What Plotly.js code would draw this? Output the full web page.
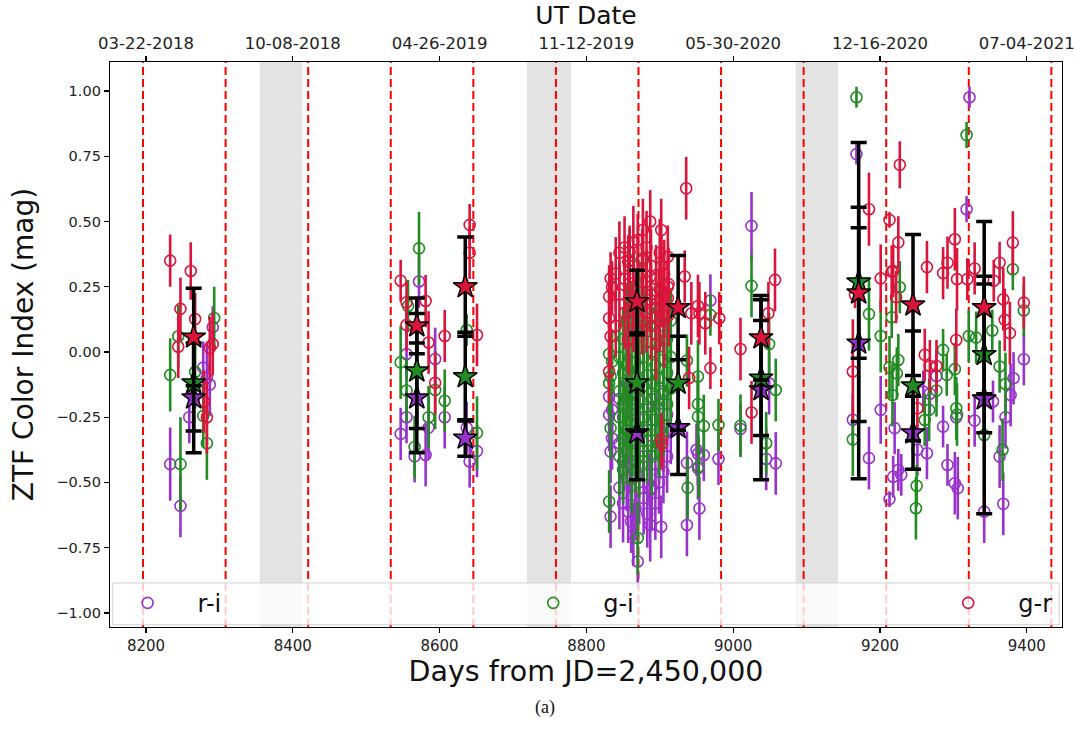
<!DOCTYPE html>
<html>
<head>
<meta charset="utf-8">
<script src="https://cdn.plot.ly/plotly-3.0.1.min.js"></script>
<style>html,body{margin:0;padding:0;background:#fff;}#chart{width:1074px;height:739px;}</style>
</head>
<body>
<div id="chart"></div>
<script>
// ---------- data ----------
const xTicks = [8200, 8400, 8600, 8800, 9000, 9200, 9400];
const dateTickDays = [8200, 8400, 8600, 8800, 9000, 9200, 9400];
const dateLabels = ["03-22-2018", "10-08-2018", "04-26-2019", "11-12-2019", "05-30-2020", "12-16-2020", "07-04-2021"];
const yTicks = [1.00, 0.75, 0.50, 0.25, 0.00, -0.25, -0.50, -0.75, -1.00];
const phaseLines = [8196, 8308.5, 8421, 8533.5, 8646, 8758.5, 8871, 8983.5, 9096, 9208.5, 9321, 9433.5];
const gapStart = [8355, 8719, 9085];
const gapEnd = [8413, 8779, 9143];

// r-i (purple)
const riDay = [8233,8247,8291,8278,8287,8259,8283,
 8572,8555,8594,8547,8555,8607,8585,8566,8581,8637,8641,8651,
 8831,8835,8831,8835,8833,8833,8859,8859,8857,8861,8870,8887,8887,8902,
 8845,8845,8845,8850,8850,8850,8855,8855,8855,8862,8862,8862,8864,8867,8867,8867,8872,8872,8872,8878,8878,8878,
 8883,8883,8883,8889,8889,8889,8894,8894,8894,8899,8899,8899,8905,8905,8905,8910,8910,8915,
 8937,8937,8952,8952,8954,8950,8960,8969,8980,
 9025,9049,9010,9045,9058,
 9168,9163,9185,
 9201,9220,9213,9218,9225,9229,9277,9259,9268,9264,9251,9286,9304,9292,9302,9306,
 9322,9318,
 9329,9354,9382,9378,9371,9363,9396,9368,9342];
const riVal = [-0.43,-0.59,0.095,-0.06,-0.125,-0.25,-0.10,
 0.27,-0.008,-0.027,-0.314,-0.25,-0.25,-0.29,-0.40,-0.395,-0.29,-0.42,-0.38,
 -0.171,-0.222,-0.241,-0.331,-0.382,-0.631,-0.126,-0.426,-0.612,-0.65,-0.803,-0.529,-0.663,-0.67,
 -0.18,-0.35,-0.52,-0.25,-0.42,-0.58,-0.12,-0.30,-0.48,-0.20,-0.38,-0.55,-0.70,-0.28,-0.45,-0.60,-0.15,-0.33,-0.50,-0.22,-0.40,-0.56,
 -0.30,-0.47,-0.62,-0.18,-0.36,-0.52,-0.26,-0.43,-0.58,-0.20,-0.35,-0.50,-0.16,-0.32,-0.46,-0.24,-0.40,-0.30,
 -0.663,-0.425,-0.39,-0.446,-0.60,-0.375,-0.395,0.197,-0.41,
 0.483,-0.12,-0.295,-0.41,-0.427,
 0.758,-0.26,-0.407,
 -0.222,-0.292,-0.564,-0.478,-0.452,-0.471,-0.092,-0.152,-0.16,-0.388,-0.375,-0.286,-0.25,-0.433,-0.503,-0.522,
 0.976,0.547,
 -0.263,-0.19,-0.101,-0.165,-0.25,-0.401,-0.028,-0.582,-0.612];
const riErr = [0.14,0.12,0.08,0.10,0.12,0.10,0.14,
 0.10,0.10,0.12,0.10,0.10,0.12,0.12,0.10,0.12,0.10,0.10,0.10,
 0.12,0.10,0.14,0.12,0.12,0.12,0.12,0.12,0.12,0.12,0.10,0.14,0.14,0.12,
 0.12,0.14,0.16,0.13,0.12,0.15,0.12,0.14,0.13,0.12,0.16,0.14,0.12,0.13,0.15,0.12,0.14,0.12,0.16,0.13,0.12,0.14,
 0.15,0.12,0.13,0.14,0.12,0.16,0.12,0.13,0.14,0.12,0.15,0.12,0.13,0.14,0.12,0.12,0.14,0.13,
 0.12,0.12,0.12,0.12,0.12,0.10,0.10,0.10,0.10,
 0.13,0.12,0.10,0.12,0.12,
 0.04,0.10,0.12,
 0.13,0.10,0.03,0.08,0.08,0.08,0.10,0.08,0.08,0.10,0.10,0.08,0.08,0.08,0.12,0.12,
 0.04,0.05,
 0.10,0.08,0.10,0.12,0.12,0.12,0.10,0.12,0.12];

// g-i (green)
const giDay = [8233,8244,8293,8267,8278,8283,8247,
 8572,8557,8547,8555,8594,8607,8585,8566,8637,8651,
 8831,8835,8833,8831,8833,8831,8859,8857,8859,8861,8870,8877,
 8845,8845,8845,8845,8850,8850,8850,8850,8850,8855,8855,8855,8855,8855,8862,8862,8862,8862,8862,8862,
 8867,8867,8867,8867,8867,8872,8872,8872,8872,8872,8872,8878,8878,8878,8878,8878,8883,8883,8883,8883,
 8889,8889,8889,8889,8889,8894,8894,8894,8894,8899,8899,8899,8899,8899,8905,8905,8905,8905,8910,8910,8910,8915,8915,8915,
 8937,8938,8952,8952,8952,8953,8960,8969,8980,
 9025,9049,9058,9010,9045,
 9168,9185,9163,
 9227,9216,9201,9213,9225,9223,9217,9250,9249,9261,9267,9277,
 9286,9291,9302,9304,9305,
 9318,9321,
 9331,9353,9381,9396,9363,9371,9367,9342];
const giVal = [-0.088,0.06,0.13,-0.077,-0.245,-0.35,-0.43,
 0.397,0.176,-0.04,-0.148,-0.146,-0.187,-0.25,-0.364,0.084,-0.31,
 -0.008,-0.037,-0.094,-0.12,-0.292,-0.573,0.352,-0.075,-0.272,-0.318,-0.713,0.36,
 -0.02,-0.15,-0.25,-0.40,0.05,-0.08,-0.20,-0.33,-0.45,0.12,-0.05,-0.18,-0.30,-0.38,0.15,0.0,-0.10,-0.22,-0.35,-0.48,
 0.08,-0.04,-0.16,-0.28,-0.42,0.20,0.06,-0.06,-0.18,-0.32,-0.44,0.10,-0.02,-0.13,-0.25,-0.38,0.04,-0.09,-0.21,-0.34,
 0.13,0.0,-0.12,-0.26,-0.40,0.07,-0.05,-0.17,-0.30,0.16,0.02,-0.10,-0.22,-0.36,0.10,-0.03,-0.15,-0.28,0.05,-0.08,-0.20,0.12,-0.02,-0.14,
 -0.033,-0.52,-0.094,-0.20,-0.248,-0.44,-0.284,0.142,-0.28,
 0.253,0.03,-0.146,-0.283,-0.35,
 0.976,0.145,-0.335,
 0.248,0.133,0.061,-0.059,-0.031,-0.082,-0.165,-0.513,-0.599,-0.261,-0.222,-0.148,
 0.008,-0.088,-0.066,-0.216,-0.24,
 0.831,0.061,
 0.055,0.082,0.317,0.159,-0.056,-0.123,-0.375,-0.318];
const giErr = [0.14,0.12,0.12,0.14,0.12,0.14,0.18,
 0.14,0.10,0.14,0.12,0.15,0.12,0.12,0.12,0.06,0.14,
 0.12,0.12,0.12,0.12,0.12,0.12,0.12,0.12,0.12,0.12,0.14,0.12,
 0.14,0.16,0.13,0.15,0.12,0.15,0.14,0.16,0.13,0.14,0.12,0.16,0.15,0.13,0.12,0.14,0.16,0.13,0.15,0.14,
 0.13,0.15,0.14,0.16,0.12,0.14,0.13,0.15,0.16,0.14,0.12,0.15,0.14,0.13,0.16,0.12,0.14,0.15,0.13,0.16,
 0.12,0.14,0.16,0.13,0.15,0.14,0.13,0.15,0.12,0.16,0.14,0.13,0.15,0.12,0.14,0.16,0.13,0.12,0.15,0.14,0.13,0.12,0.14,0.15,
 0.10,0.12,0.14,0.12,0.14,0.12,0.12,0.08,0.10,
 0.12,0.12,0.12,0.12,0.12,
 0.04,0.14,0.14,
 0.10,0.08,0.14,0.12,0.10,0.10,0.12,0.08,0.12,0.10,0.12,0.10,
 0.08,0.08,0.10,0.12,0.12,
 0.05,0.10,
 0.10,0.08,0.08,0.10,0.10,0.12,0.12,0.10];

// g-r (red)
const grDay = [8233,8261,8247,8267,8244,8291,8287,8279,8283,
 8547,8555,8581,8555,8585,8607,8594,8641,8641,8651,
 8833,8835,8831,8831,8833,8831,8859,8857,8859,8857,8870,8877,8877,8887,8887,8887,8902,8902,8902,8902,8902,8903,8911,8911,8911,
 8840,8840,8845,8845,8852,8852,8852,8858,8858,8858,8864,8864,8864,8870,8870,8870,8876,8876,8876,8882,8882,8882,
 8888,8888,8888,8895,8895,8895,8900,8900,8900,8906,8906,8906,8912,8912,
 8936,8934,8943,8952,8954,8962,8969,8981,8940,
 9057,9048,9010,9025,
 9185,9166,9163,
 9213,9227,9225,9201,9216,9218,9222,9264,9261,9268,9277,9251,
 9286,9292,9302,9305,9304,
 9319,
 9329,9355,9363,9381,9368,9370,9377,9396];
const grVal = [0.35,0.31,0.165,0.126,0.02,0.03,0.015,-0.19,-0.25,
 0.273,0.19,0.195,0.103,0.036,0.061,-0.118,0.487,0.38,0.065,
 0.282,0.248,0.212,0.129,0.059,-0.075,0.384,0.346,0.263,0.046,0.429,0.467,0.352,0.50,0.289,0.20,0.467,0.327,0.237,0.20,-0.337,-0.352,0.365,0.25,0.206,
 0.10,0.30,0.22,0.38,0.15,0.28,0.40,0.20,0.33,0.05,0.25,0.12,0.42,0.18,0.30,0.08,0.23,0.35,0.12,0.15,0.27,0.40,
 0.10,0.22,0.33,0.17,0.28,0.03,0.12,0.24,0.38,0.08,0.20,0.30,0.14,0.26,
 0.627,0.289,0.148,0.176,0.148,0.11,-0.062,0.129,-0.10,
 0.276,0.148,0.011,-0.232,
 0.547,0.218,-0.075,
 0.506,0.717,0.42,0.282,0.308,0.31,0.21,0.325,-0.011,-0.054,-0.054,-0.216,
 0.302,0.342,0.432,0.279,0.046,
 0.279,
 0.32,0.273,0.342,0.419,0.202,0.123,0.072,0.189];
const grErr = [0.10,0.11,0.12,0.10,0.12,0.12,0.12,0.12,0.14,
 0.08,0.08,0.10,0.10,0.12,0.10,0.12,0.08,0.10,0.12,
 0.10,0.10,0.12,0.12,0.12,0.12,0.10,0.10,0.10,0.12,0.10,0.12,0.12,0.12,0.12,0.12,0.12,0.12,0.10,0.10,0.10,0.10,0.12,0.12,0.10,
 0.12,0.14,0.13,0.12,0.14,0.13,0.12,0.15,0.12,0.14,0.13,0.12,0.14,0.12,0.15,0.13,0.14,0.12,0.13,0.15,0.12,0.14,
 0.13,0.12,0.14,0.12,0.13,0.14,0.12,0.15,0.13,0.14,0.12,0.13,0.12,0.14,
 0.12,0.10,0.12,0.12,0.12,0.12,0.08,0.10,0.12,
 0.12,0.12,0.12,0.12,
 0.14,0.05,0.20,
 0.03,0.09,0.10,0.13,0.10,0.10,0.10,0.10,0.10,0.10,0.10,0.10,
 0.10,0.10,0.12,0.12,0.12,
 0.08,
 0.10,0.08,0.08,0.12,0.12,0.12,0.12,0.10];

// per-cycle means (stars)
const starDay = [8265, 8569, 8635, 8869, 8925, 9038, 9171, 9245, 9342];
const starRI = [-0.176, -0.176, -0.33, -0.31, -0.29, -0.145, 0.034, -0.31, -0.18];
const starRIerr = [0.21, 0.21, 0.07, 0.18, 0.18, 0.345, 0.52, 0.14, 0.44];
const starGI = [-0.119, -0.073, -0.095, -0.119, -0.12, -0.10, 0.268, -0.13, -0.01];
const starGIerr = [0.184, 0.22, 0.17, 0.185, 0.18, 0.22, 0.535, 0.21, 0.30];
const starGR = [0.057, 0.10, 0.25, 0.193, 0.17, 0.054, 0.226, 0.18, 0.17];
const starGRerr = [0.187, 0.107, 0.19, 0.12, 0.20, 0.162, 0.25, 0.27, 0.33];

const names = ["r-i", "g-i", "g-r"];
const colors = ["#9932CC", "#228B22", "#DC143C"];

// ---------- traces ----------
function ptTrace(x, y, e, i) {
  return {
    type: "scatter", mode: "markers", x: x, y: y, name: names[i],
    legend: ["legend", "legend2", "legend3"][i],
    marker: {symbol: "circle-open", size: 11, color: colors[i], line: {width: 1.6, color: colors[i]}},
    error_y: {type: "data", array: e, visible: true, color: colors[i], thickness: 2.6, width: 0},
    hoverinfo: "x+y"
  };
}
function starTrace(y, e, i) {
  return {
    type: "scatter", mode: "markers", x: starDay, y: y, showlegend: false,
    marker: {symbol: "star", size: 18, color: colors[i], line: {width: 1.5, color: "black"}},
    error_y: {type: "data", array: e, visible: true, color: "black", thickness: 3.5, width: 8},
    hoverinfo: "x+y"
  };
}
const data = [
  ptTrace(riDay, riVal, riErr, 0),
  ptTrace(giDay, giVal, giErr, 1),
  ptTrace(grDay, grVal, grErr, 2),
  starTrace(starRI, starRIerr, 0),
  starTrace(starGI, starGIerr, 1),
  starTrace(starGR, starGRerr, 2),
  {type: "scatter", mode: "markers", x: dateTickDays, y: dateTickDays.map(() => 0), xaxis: "x2",
   marker: {opacity: 0}, showlegend: false, hoverinfo: "skip"}
];

// ---------- shapes ----------
const shapes = [];
gapStart.forEach((s, k) => shapes.push({type: "rect", xref: "x", yref: "paper", x0: s, x1: gapEnd[k], y0: 0, y1: 1,
  fillcolor: "#e3e3e3", line: {width: 0}, layer: "below"}));
phaseLines.forEach(v => shapes.push({type: "line", xref: "x", yref: "paper", x0: v, x1: v, y0: 0, y1: 1,
  line: {color: "#ff0000", width: 2, dash: "8px,4px"}, layer: "below"}));
shapes.push({type: "rect", xref: "paper", yref: "paper", x0: 0.003, x1: 0.997, y0: 0.004, y1: 0.078,
  fillcolor: "rgba(255,255,255,0.8)", line: {color: "#d0d0d0", width: 1}, layer: "above"});

const font = "DejaVu Sans, sans-serif";
const axBase = {showline: true, linecolor: "black", linewidth: 1.2, mirror: true, ticks: "outside", ticklen: 5,
  tickcolor: "black", tickwidth: 1.2, showgrid: false, zeroline: false, ticklabeloverflow: "allow",
  tickfont: {family: font, size: 15, color: "#222"}};
const legBase = {orientation: "h", bgcolor: "rgba(0,0,0,0)", borderwidth: 0, font: {family: font, size: 24, color: "#111"},
  yanchor: "middle", xanchor: "left", y: 0.042, itemwidth: 90};

const layout = {
  width: 1074, height: 739,
  margin: {l: 110, r: 12, t: 62, b: 112},
  paper_bgcolor: "white", plot_bgcolor: "white",
  font: {family: font},
  xaxis: Object.assign({}, axBase, {range: [8151, 9448], tickvals: xTicks, ticktext: xTicks.map(String),
    title: {text: "Days from JD=2,450,000", font: {family: font, size: 28.5, color: "#111"}, standoff: 6}}),
  xaxis2: Object.assign({}, axBase, {overlaying: "x", side: "top", anchor: "y", range: [8151, 9448],
    tickvals: dateTickDays, ticktext: dateLabels, tickfont: {family: font, size: 16.5, color: "#222"},
    title: {text: "UT Date", font: {family: font, size: 25, color: "#111"}, standoff: 2}}),
  yaxis: Object.assign({}, axBase, {range: [-1.054, 1.111], tickvals: yTicks, tickfont: {family: font, size: 14.5, color: "#222"},
    ticktext: yTicks.map(v => (v < 0 ? "\u2212" : "") + Math.abs(v).toFixed(2)),
    title: {text: "ZTF Color Index (mag)", font: {family: font, size: 28, color: "#111"}, standoff: 14}}),
  shapes: shapes,
  legend: Object.assign({}, legBase, {x: -0.013}),
  legend2: Object.assign({}, legBase, {x: 0.413}),
  legend3: Object.assign({}, legBase, {x: 0.849}),
  annotations: [{text: "(a)", xref: "paper", yref: "paper", x: 0.457, y: -0.165, showarrow: false,
    font: {family: "Liberation Serif, DejaVu Serif, serif", size: 18, color: "#111"}}]
};

Plotly.newPlot("chart", data, layout, {displayModeBar: false, staticPlot: true});
</script>
</body>
</html>
